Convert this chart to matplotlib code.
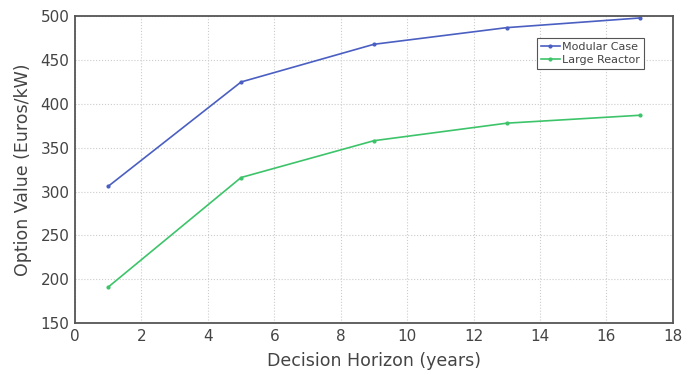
import matplotlib
matplotlib.use("Agg")
import matplotlib.pyplot as plt

horizon = [1, 5, 9, 13, 17]
modular_case = [306, 425, 468, 487, 498]
large_reactor = [191, 316, 358, 378, 387]

text_color = "#444444"
plt.rcParams["font.family"] = "DejaVu Sans"

fig = plt.figure(figsize=(6.96, 3.75), dpi=100)
ax = fig.add_axes([0.1078, 0.1387, 0.859, 0.818])

ax.plot(horizon, modular_case, color="#4a5fc1", marker=".", markersize=4,
        linewidth=1.2, label="Modular Case")
ax.plot(horizon, large_reactor, color="#3dc46a", marker=".", markersize=4,
        linewidth=1.2, label="Large Reactor")

ax.set_xlim(0, 18)
ax.set_ylim(150, 500)
ax.set_xticks(range(0, 19, 2))
ax.set_yticks(range(150, 501, 50))
ax.grid(True, color="#cccccc", linestyle=":", linewidth=0.8)
ax.set_axisbelow(True)

for spine in ax.spines.values():
    spine.set_color("#555555")
    spine.set_linewidth(1.3)

ax.tick_params(axis="both", length=0, labelsize=11, labelcolor=text_color, pad=4)
ax.set_xlabel("Decision Horizon (years)", fontsize=12.5, color=text_color, labelpad=6)
ax.set_ylabel("Option Value (Euros/kW)", fontsize=12.5, color=text_color, labelpad=6)

leg = ax.legend(loc="upper right", bbox_to_anchor=(0.952, 0.93), fontsize=8,
                fancybox=False, framealpha=1, edgecolor="#555555",
                handlelength=1.7, borderpad=0.35, labelspacing=0.3,
                handletextpad=0.25, borderaxespad=0)
leg.get_frame().set_linewidth(0.8)
for t in leg.get_texts():
    t.set_color(text_color)

fig.savefig("out.png", dpi=100)
